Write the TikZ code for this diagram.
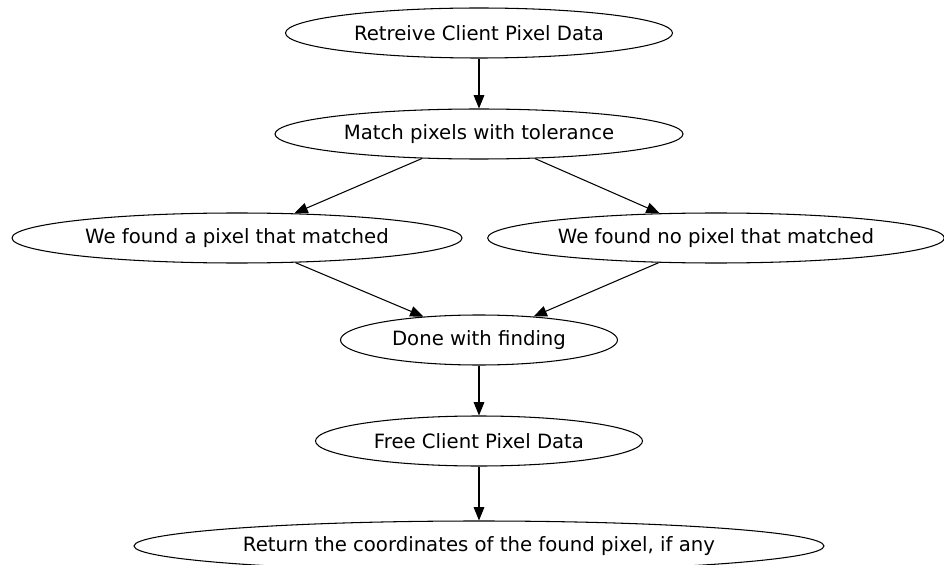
\documentclass[tikz,border=0pt]{standalone}
\usepackage{fontspec}
\setmainfont{DejaVu Sans}
\usetikzlibrary{arrows.meta,positioning,shapes.geometric}

\begin{document}
\begin{tikzpicture}[
    x=0.03cm, y=-0.03cm,
    font=\fontsize{16.8}{20}\selectfont,
    stage/.style={
      ellipse, draw, line width=0.9pt, align=center,
      minimum height=1.5cm, inner sep=0pt
    },
    flow/.style={-{Triangle[length=0.4cm,width=0.32cm]}, line width=0.9pt}
  ]
    % Page area (pixel grid of the original)
    \useasboundingbox (0,0) rectangle (944,565);

    % Main column
    \node[stage, minimum width=11.61cm] at (479, 33) (retr)
      {Retreive Client Pixel Data};
    \node[stage, minimum width=12.24cm] at (479,134) (match)
      {Match pixels with tolerance};

    % The two outcomes
    \node[stage, minimum width=13.5cm] at (237,238) (found)
      {We found a pixel that matched};
    \node[stage, minimum width=13.7cm] at (716,238) (nofound)
      {We found no pixel that matched};

    % Joining again
    \node[stage, minimum width=8.31cm] at (479,340) (done)
      {Done with finding};
    \node[stage, minimum width=9.81cm] at (479,441) (free)
      {Free Client Pixel Data};
    \node[stage, minimum width=20.7cm] at (479,546) (ret)
      {Return the coordinates of the found pixel, if any};

    % Edges
    \draw[flow] (retr) -- (match);
    \draw[flow] (match) -- (found);
    \draw[flow] (match) -- (nofound);
    \draw[flow] (found) -- (done);
    \draw[flow] (nofound) -- (done);
    \draw[flow] (done) -- (free);
    \draw[flow] (free) -- (ret);
  \end{tikzpicture}
\end{document}
